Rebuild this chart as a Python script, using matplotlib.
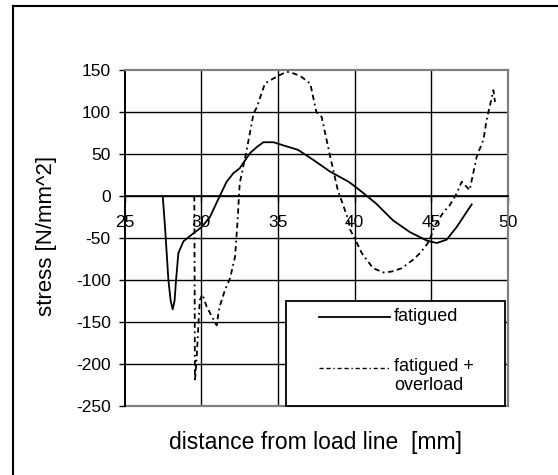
import matplotlib
matplotlib.use("Agg")
import matplotlib.pyplot as plt
from matplotlib.lines import Line2D
from matplotlib.patches import Rectangle

plt.rcParams['font.family'] = ['Liberation Sans', 'DejaVu Sans']

# ---- data ----
fatigued_x = [27.48, 27.63, 27.85, 28.0, 28.13, 28.25, 28.35, 28.5, 28.83, 29.37,
              30.02, 30.56, 31.2, 31.65, 32.08, 32.5, 33.17, 33.6, 34.04, 34.7,
              35.57, 36.3, 37.3, 38.4, 38.8, 39.6, 39.9, 40.46, 41.4, 42.5,
              43.6, 44.7, 45.35, 46.0, 46.65, 47.63]
fatigued_y = [0, -37, -100, -125, -135, -125, -100, -68, -54, -46,
              -37, -25, 0, 17, 27, 33, 51, 58, 64, 64,
              59, 55, 43, 29, 25, 17, 13, 5, -9, -29,
              -43, -53, -56, -52, -37, -10]

overload_x = [29.54, 29.56, 29.58, 29.7, 29.8, 29.9, 30.07, 30.35, 31.0, 31.17,
              31.54, 31.87, 32.2, 32.35, 32.5, 32.96, 33.4, 33.6, 34.15, 34.9,
              35.57, 36.0, 36.44, 37.1, 37.5, 37.85, 38.4, 38.9, 39.6, 39.7,
              40.1, 40.46, 41.2, 41.87, 42.4, 43.07, 43.5, 43.8, 44.26, 44.7,
              44.9, 45.2, 45.8, 46.2, 46.65, 46.98, 47.4, 47.5, 47.96, 48.4,
              48.6, 48.9, 49.05, 49.15]
overload_y = [0, -100, -221, -191, -155, -124, -117, -132, -154, -133,
              -112, -98, -72, -33, 15, 55, 98, 105, 134, 142,
              148, 146, 143, 134, 100, 94, 47, 7, -29, -40,
              -54, -68, -86, -91, -90, -86, -80, -76, -68, -58,
              -52, -36, -19, -11, 3, 17, 9, 7, 47, 67,
              90, 114, 126, 112]

x_ticks = [25, 30, 35, 40, 45, 50]
y_ticks = [-250, -200, -150, -100, -50, 0, 50, 100, 150]
series_labels = ["fatigued", "fatigued +\noverload"]
x_label = "distance from load line  [mm]"
y_label = "stress [N/mm^2]"

# ---- figure ----
W, H = 558, 475
fig = plt.figure(figsize=(W / 100, H / 100), dpi=100)


def px(x, y):
    return (x / W, 1 - y / H)


ax_l, ax_r, ax_t, ax_b = 124.7, 508.0, 70.0, 406.0
ax = fig.add_axes([ax_l / W, 1 - ax_b / H, (ax_r - ax_l) / W, (ax_b - ax_t) / H])
ax.set_xlim(x_ticks[0], x_ticks[-1])
ax.set_ylim(y_ticks[0], y_ticks[-1])

# grid lines (black), interior only
for yv in y_ticks[1:-1]:
    ax.axhline(yv, color='black', lw=1.0, zorder=1)
for xv in x_ticks[1:-1]:
    ax.axvline(xv, color='black', lw=1.0, zorder=1)
ax.axhline(y_ticks[0], color='#808080', lw=1.6, zorder=1, clip_on=False)

ax.plot(fatigued_x, fatigued_y, color='black', lw=1.3, zorder=3)
ax.plot(overload_x, overload_y, color='black', lw=1.3, zorder=3,
        dashes=[3, 2, 3, 2, 1, 2])

# spines
ax.spines['bottom'].set_position(('data', 0))
ax.spines['bottom'].set_color('black')
ax.spines['bottom'].set_linewidth(1.2)
ax.spines['left'].set_color('black')
ax.spines['left'].set_linewidth(1.4)
for s in ['top', 'right']:
    ax.spines[s].set_color('#808080')
    ax.spines[s].set_linewidth(1.6)

ax.set_xticks(x_ticks)
ax.set_yticks(y_ticks)
ax.set_xticklabels([str(v) for v in x_ticks], fontsize=12.5)
ax.set_yticklabels([str(v) for v in y_ticks], fontsize=12.5)
ax.tick_params(axis='x', direction='out', length=4, width=1, pad=9.5)
ax.tick_params(axis='y', direction='out', length=4, width=1, pad=6)

fig.text(*px(315, 443), x_label, ha='center', va='center', fontsize=16.5)
fig.text(*px(47, 236), y_label, ha='center', va='center', rotation=90, fontsize=16)

# legend box drawn manually
lx0, ly0, lx1, ly1 = 286, 301, 505, 406
fig.patches.append(Rectangle(px(lx0, ly1), (lx1 - lx0) / W, (ly1 - ly0) / H,
                             transform=fig.transFigure, facecolor='white',
                             edgecolor='black', lw=1.3, zorder=5))
fig.lines.append(Line2D([319 / W, 390 / W], [px(0, 316.5)[1]] * 2,
                        transform=fig.transFigure, color='black', lw=1.3, zorder=6))
fig.lines.append(Line2D([319 / W, 390 / W], [px(0, 367.5)[1]] * 2,
                        transform=fig.transFigure, color='black', lw=1.0, zorder=6,
                        dashes=[3, 2, 3, 2, 1, 2]))
fig.text(*px(394, 316.5), series_labels[0], ha='left', va='center', fontsize=13, zorder=7)
fig.text(*px(394, 358), series_labels[1], ha='left', va='top', fontsize=13,
         zorder=7, linespacing=1.15)

# outer frame (left and top edges)
fig.lines.append(Line2D([12.5 / W, 12.5 / W], [0, px(0, 5.5)[1]],
                        transform=fig.transFigure, color='black', lw=1.5))
fig.lines.append(Line2D([12.5 / W, 1], [px(0, 5.5)[1]] * 2,
                        transform=fig.transFigure, color='black', lw=1.5))

fig.savefig("out.png", dpi=100)
